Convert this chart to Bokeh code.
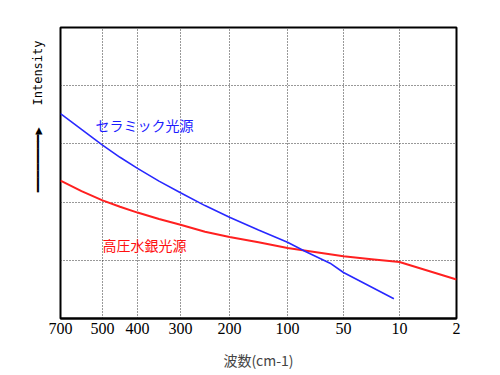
import numpy as np
from bokeh.plotting import figure
from bokeh.models import Range1d, FixedTicker, Label, Title
from bokeh.embed import file_html
from bokeh.resources import INLINE

# Axis ticks (wavenumber, cm-1) and their positions on the hand-spaced axis
tick_wn = [700, 500, 400, 300, 200, 100, 50, 10, 2]
tick_pos = [0, 42, 77, 120, 169, 227, 283, 339, 396]

# Ceramic light source (blue)
ceramic_wn = [700, 600, 500, 450, 400, 350, 300, 250, 200, 150, 100, 84, 62, 50, 14]
ceramic_val = [3.52, 3.25, 2.98, 2.77, 2.58, 2.36, 2.16, 1.94, 1.74, 1.52, 1.31,
               1.15, 0.95, 0.79, 0.34]

# High-pressure mercury light source (red)
mercury_wn = [700, 600, 500, 450, 400, 350, 300, 250, 200, 150, 100, 50, 30, 10, 2]
mercury_val = [2.37, 2.19, 2.03, 1.92, 1.82, 1.71, 1.61, 1.49, 1.40, 1.31, 1.21,
               1.07, 1.02, 0.97, 0.67]

grid_y = [1, 2, 3, 4]


def to_pos(wn):
    wn = np.asarray(wn, dtype=float)
    return np.interp(-wn, [-w for w in tick_wn], tick_pos)


FONT = "Noto Sans CJK JP"
NARROW = "Liberation Sans Narrow"

p = figure(width=500, height=375, output_backend="svg", toolbar_location=None,
           x_range=Range1d(0, 396), y_range=Range1d(0, 5),
           min_border_left=60, min_border_right=44, min_border_top=27,
           min_border_bottom=57)
p.background_fill_color = "white"
p.border_fill_color = "white"
p.outline_line_color = "black"
p.outline_line_width = 2

p.yaxis.visible = False
p.xaxis.ticker = FixedTicker(ticks=tick_pos)
p.xaxis.major_label_overrides = {pos: str(w) for pos, w in zip(tick_pos, tick_wn)}
p.xaxis.major_tick_line_color = None
p.xaxis.minor_tick_line_color = None
p.xaxis.major_tick_out = 0
p.xaxis.major_label_standoff = 4
p.xaxis.major_label_text_font = NARROW
p.xaxis.major_label_text_font_size = "16px"
p.xaxis.major_label_text_color = "black"
p.xaxis.axis_line_color = "black"
p.xaxis.axis_line_width = 2
p.xaxis.axis_label = "波数(cm-1)"
p.xaxis.axis_label_text_font = FONT
p.xaxis.axis_label_text_font_size = "14px"
p.xaxis.axis_label_text_font_style = "normal"
p.xaxis.axis_label_standoff = 13

p.xgrid.ticker = FixedTicker(ticks=tick_pos[1:-1])
p.ygrid.ticker = FixedTicker(ticks=grid_y)
for g in (p.xgrid, p.ygrid):
    g.grid_line_color = "#333333"
    g.grid_line_dash = "1 2"
    g.grid_line_width = 1

p.line(to_pos(mercury_wn), mercury_val, line_color="#ff2020", line_width=2)
p.line(to_pos(ceramic_wn), ceramic_val, line_color="#2828ff", line_width=1.6)

p.add_layout(Label(x=35, y=3.32, text="セラミック光源", text_font=FONT,
                   text_font_size="14px", text_color="#1c1cff",
                   text_baseline="middle"))
p.add_layout(Label(x=42, y=1.27, text="高圧水銀光源", text_font=FONT,
                   text_font_size="14px", text_color="#ff1010",
                   text_baseline="middle"))

nb = "\u00a0"
p.add_layout(Title(text="━━━━━━━━▶" + nb * 3 + "Intensity", align="right",
                   offset=13, standoff=32, text_font="DejaVu Sans Mono",
                   text_font_size="12px", text_font_style="normal",
                   text_color="black"), "left")

open("out.html", "w").write(file_html(p, INLINE))
